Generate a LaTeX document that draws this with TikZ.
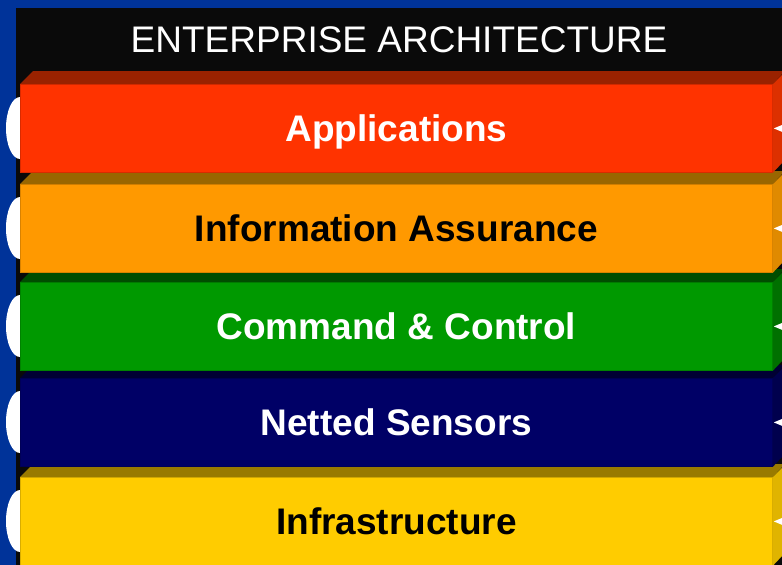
\documentclass[tikz,border=0pt]{standalone}
\usepackage{fontspec}
\setmainfont{Liberation Sans}
\usetikzlibrary{calc}
\definecolor{bluebg}{HTML}{003399}
\definecolor{panel}{HTML}{0A0A0A}
\definecolor{redF}{HTML}{FF3300}\definecolor{redT}{HTML}{992200}\definecolor{redS}{HTML}{DD3000}
\definecolor{orF}{HTML}{FF9900}\definecolor{orT}{HTML}{996600}\definecolor{orS}{HTML}{E08A00}
\definecolor{grF}{HTML}{009900}\definecolor{grT}{HTML}{004D00}\definecolor{grS}{HTML}{007000}
\definecolor{nvF}{HTML}{000066}\definecolor{nvT}{HTML}{000033}\definecolor{nvS}{HTML}{00004D}
\definecolor{yeF}{HTML}{FFCC00}\definecolor{yeT}{HTML}{997A00}\definecolor{yeS}{HTML}{E0B400}
\tikzset{
  layerface/.style={rectangle, inner sep=0pt, minimum width=752pt, minimum height=88pt,
    text height=26.5pt, text depth=0pt,
    anchor=north west, line width=0.8pt, font=\fontsize{37}{40}\selectfont\bfseries},
  bulge/.style={fill=white},
  pointer/.style={fill=white}
}
% #1 name, #2 top y, #3 front, #4 top face, #5 side, #6 text colour, #7 label
\newcommand\layerbox[7]{%
  \fill[bulge] (20,#2+44) ellipse [x radius=14, y radius=31];
  \node[layerface, fill=#3, draw=#3!85!black, text=#6] (#1) at (20,#2) {#7};
  \fill[#4] (#1.north west) -- ++(13,-13) -- ++(752,0) -- (#1.north east) -- cycle;
  \fill[#5] (#1.north east) -- ++(13,-13) -- ++(0,88) -- (#1.south east) -- cycle;
  \fill[pointer] ($(#1.east)+(1,0)$) -- ++(12,-5) -- ++(0,10) -- cycle;
}
\begin{document}
\begin{tikzpicture}[x=1pt,y=-1pt]
\useasboundingbox (0,0) rectangle (782,565);
\fill[bluebg] (0,0) rectangle (782,565);
\fill[panel] (16,8) rectangle (782,565);
\node[text=white, font=\fontsize{37}{40}\selectfont, inner sep=0pt] (title) at (399,40) {ENTERPRISE ARCHITECTURE};
\layerbox{infra}{477}{yeF}{yeT}{yeS}{black}{Infrastructure}
\layerbox{sensors}{378}{nvF}{nvT}{nvS}{white}{Netted Sensors}
\layerbox{c2}{282}{grF}{grT}{grS}{white}{Command \& Control}
\layerbox{ia}{184}{orF}{orT}{orS}{black}{Information Assurance}
\layerbox{apps}{84}{redF}{redT}{redS}{white}{Applications}
\end{tikzpicture}
\end{document}
